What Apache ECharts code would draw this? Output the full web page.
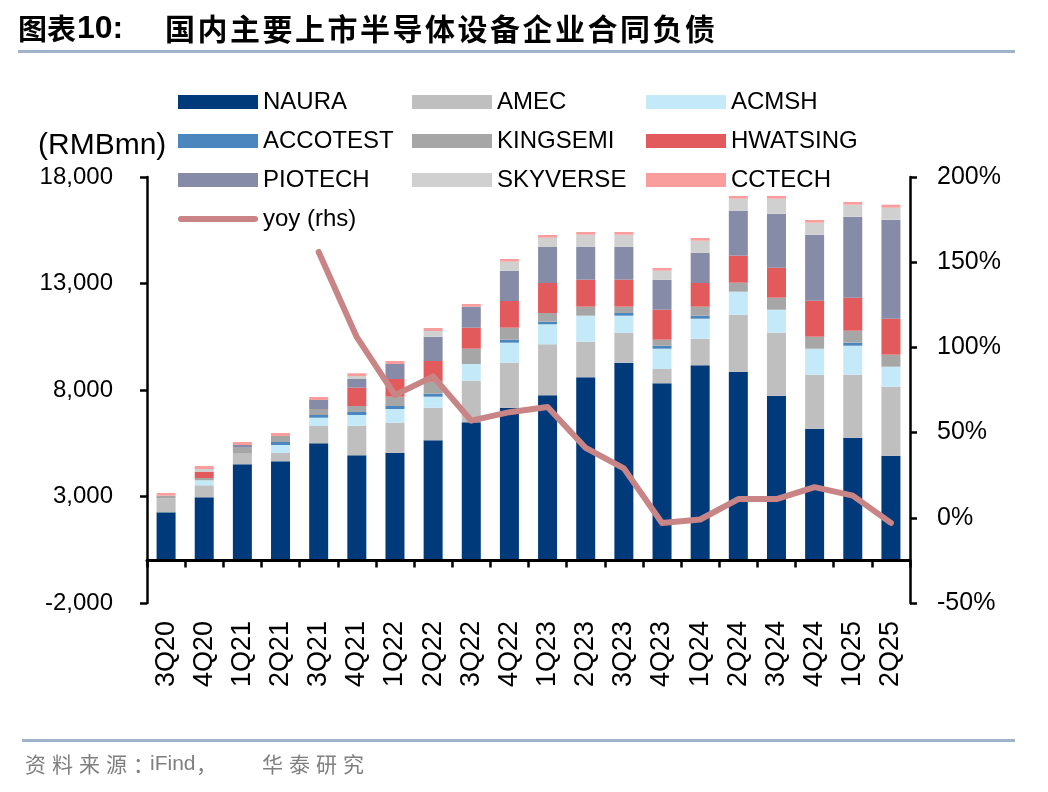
<!DOCTYPE html>
<html>
<head>
<meta charset="utf-8">
<script src="https://cdn.jsdelivr.net/npm/echarts@6/dist/echarts.min.js"></script>
<style>html,body{margin:0;padding:0;background:#fff;}#c{width:1048px;height:792px;}</style>
</head>
<body>
<div id="c"></div>
<script>
const categories = ['3Q20','4Q20','1Q21','2Q21','3Q21','4Q21','1Q22','2Q22','3Q22','4Q22','1Q23','2Q23','3Q23','4Q23','1Q24','2Q24','3Q24','4Q24','1Q25','2Q25'];
const NAURA    = [2258,2962,4512,4653,5498,4934,5057,5639,6484,7169,7751,8597,9282,8315,9160,8860,7733,6183,5761,4916];
const AMEC     = [658,564,498,389,812,1390,1408,1530,1953,2113,2395,1671,1408,671,1249,2676,2957,2536,2958,3239];
const ACMSH    = [0,235,0,376,390,502,643,517,784,939,939,1221,799,953,939,1079,1080,1220,1361,939];
const ACCOTEST = [0,0,0,141,126,141,141,141,0,141,122,0,126,141,141,0,0,0,141,0];
const KINGSEMI = [125,108,281,281,282,282,437,563,718,563,408,422,296,282,422,423,564,564,563,564];
const HWATSING = [0,281,0,0,0,859,831,972,986,1254,1409,1268,1268,1408,1113,1268,1408,1690,1550,1690];
const PIOTECH  = [0,0,127,0,423,409,704,1141,986,1422,1690,1549,1549,1409,1423,2112,2536,3099,3803,4648];
const SKYVERSE = [0,141,0,0,0,141,0,267,0,423,437,564,564,422,563,564,704,563,563,563];
const CCTECH   = [126,141,141,141,141,126,141,141,127,127,127,126,126,127,127,127,127,127,127,141];
const yoy      = [null,null,null,null,156,106,72,83,57,62,65,41,29,-3,-1,11,11,18,13,-3];
const leftTicks  = [-2000,3000,8000,13000,18000];
const titleMain  = '国内主要上市半导体设备企业合同负债';

const barSeries = [
  ['NAURA', NAURA, '#003A7A'],
  ['AMEC', AMEC, '#BFBFBF'],
  ['ACMSH', ACMSH, '#C4EAF9'],
  ['ACCOTEST', ACCOTEST, '#4B87BE'],
  ['KINGSEMI', KINGSEMI, '#A6A6A6'],
  ['HWATSING', HWATSING, '#E35A5C'],
  ['PIOTECH', PIOTECH, '#868CA8'],
  ['SKYVERSE', SKYVERSE, '#D0D0D0'],
  ['CCTECH', CCTECH, '#FA9D9D']
];
const lineColor = '#C98585';
const latin = 'Liberation Sans, Arial, sans-serif';
const cjk = 'Noto Sans CJK SC, sans-serif';

const series = barSeries.map(([name, data, color], i) => ({
  name, type: 'bar', stack: 'a', data, yAxisIndex: 0, barWidth: 19,
  itemStyle: { color },
  emphasis: { disabled: true },
  markLine: i === 0 ? {
    silent: true, symbol: 'none', label: { show: false },
    lineStyle: { color: '#000', width: 3, type: 'solid' },
    data: [{ yAxis: 0 }]
  } : undefined
}));
series.push({
  name: 'yoy (rhs)', type: 'line', yAxisIndex: 1, data: yoy,
  symbol: 'none', z: 5,
  lineStyle: { color: lineColor, width: 6, cap: 'round', join: 'round' },
  itemStyle: { color: lineColor }
});

const graphics = [];
graphics.push({ type: 'text', left: 18, top: 14, style: { text: '图表', font: 'bold 29px ' + cjk, fill: '#000' } });
graphics.push({ type: 'text', left: 77, top: 13, style: { text: '10:', font: 'bold 32px ' + latin, fill: '#000' } });
titleMain.split('').forEach((ch, i) => {
  graphics.push({ type: 'text', x: 165 + i * 32.5, y: 14, style: { text: ch, font: 'bold 30px ' + cjk, fill: '#000' } });
});
graphics.push({ type: 'rect', shape: { x: 18, y: 50, width: 997, height: 3 }, style: { fill: '#9FB3CB' } });
graphics.push({ type: 'rect', shape: { x: 22, y: 739, width: 993, height: 3 }, style: { fill: '#9FB3CB' } });
const srcParts = [['资',25],['料',52],['来',79],['源',106],['：',133],['iFind',150],['，',196],['华',262],['泰',289],['研',316],['究',343]];
srcParts.forEach(([t, x]) => {
  graphics.push({ type: 'text', x: x, y: 754, style: { text: t, font: '21px ' + (t === 'iFind' ? latin : cjk), fill: '#7F7F7F' } });
});
graphics.push({ type: 'text', x: 38, y: 131, style: { text: '(RMBmn)', font: '30px ' + latin, fill: '#000' } });

const legendBase = {
  orient: 'vertical', top: 90, itemWidth: 80, itemHeight: 14, itemGap: 15, padding: 0,
  textStyle: { fontSize: 24, fontFamily: latin, color: '#000', lineHeight: 22 },
  selectedMode: false
};
const lineIcon = 'path://M3,0 L77,0 A3,3 0 0 1 77,6 L3,6 A3,3 0 0 1 3,0 Z';
const leg = (left, names) => Object.assign({}, legendBase, {
  left, data: names.map(n => n === 'yoy (rhs)'
    ? { name: n, icon: lineIcon, itemStyle: { color: lineColor } }
    : { name: n, icon: 'rect' })
});

const option = {
  animation: false,
  backgroundColor: '#fff',
  grid: { left: 147, right: 138, top: 177, bottom: 189, containLabel: false },
  legend: [
    leg(178, ['NAURA', 'ACCOTEST', 'PIOTECH', 'yoy (rhs)']),
    leg(412, ['AMEC', 'KINGSEMI', 'SKYVERSE']),
    leg(646, ['ACMSH', 'HWATSING', 'CCTECH'])
  ],
  xAxis: {
    type: 'category', data: categories,
    axisLine: { show: true, onZero: true, onZeroAxisIndex: 0, lineStyle: { color: '#000', width: 3 } },
    axisTick: { show: true, length: 7, interval: 0, lineStyle: { color: '#000', width: 2.5 } },
    axisLabel: { rotate: 90, margin: 18, interval: 0, fontSize: 27, fontFamily: latin, color: '#000' },
    splitLine: { show: false }
  },
  yAxis: [
    {
      type: 'value', min: -2000, max: 18000, position: 'left',
      axisLine: { show: true, lineStyle: { color: '#000', width: 2.5 } },
      axisTick: { show: true, length: 7, customValues: leftTicks, lineStyle: { color: '#000', width: 2.5 } },
      axisLabel: { customValues: leftTicks, margin: 34, fontSize: 24, fontFamily: latin, color: '#000',
        formatter: v => v.toLocaleString('en-US') },
      splitLine: { show: false }
    },
    {
      type: 'value', min: -50, max: 200, interval: 50, position: 'right',
      axisLine: { show: true, lineStyle: { color: '#000', width: 2.5 } },
      axisTick: { show: true, length: 7, lineStyle: { color: '#000', width: 2.5 } },
      axisLabel: { margin: 27, fontSize: 25, fontFamily: latin, color: '#000', formatter: '{value}%' },
      splitLine: { show: false }
    }
  ],
  graphic: graphics,
  series
};
const chart = echarts.init(document.getElementById('c'), null, { renderer: 'canvas' });
chart.setOption(option);
</script>
</body>
</html>
